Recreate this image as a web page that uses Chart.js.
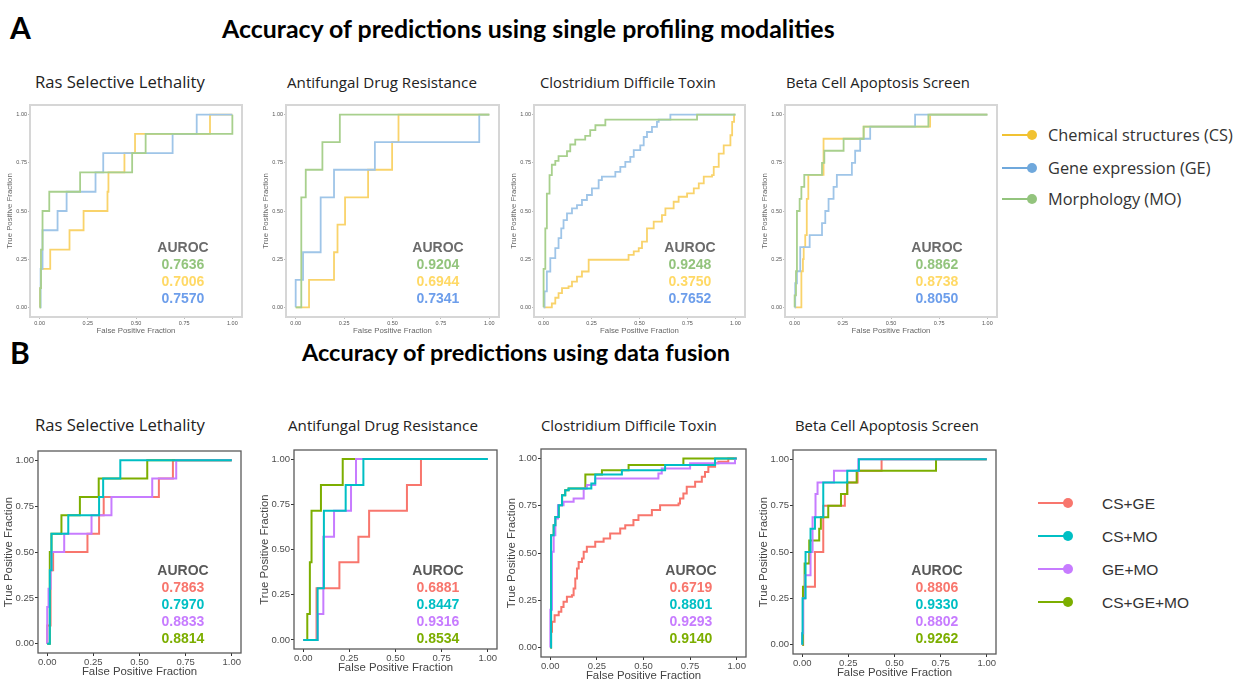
<!DOCTYPE html>
<html>
<head>
<meta charset="utf-8">
<title>ROC curves - single modalities and data fusion</title>
<script src="https://cdn.jsdelivr.net/npm/chart.js@4.4.1/dist/chart.umd.min.js"></script>
<style>
  body { margin: 0; background: #fff; }
  #page { position: relative; width: 1236px; height: 682px; overflow: hidden; font-family: Lato, "Open Sans", sans-serif; color: #1a1a1a; }
  .t { position: absolute; white-space: nowrap; }
  .panel { position: absolute; }
  .legline { position: absolute; height: 2px; }
  .legdot { position: absolute; width: 10px; height: 10px; border-radius: 50%; }
</style>
</head>
<body>
<div id="page"></div>
<script>
// ticks shared by every panel
const tickVals = [0, 0.25, 0.5, 0.75, 1];

const panelTitles = ['Ras Selective Lethality', 'Antifungal Drug Resistance', 'Clostridium Difficile Toxin', 'Beta Cell Apoptosis Screen'];
const singleNames = ['Chemical structures (CS)', 'Gene expression (GE)', 'Morphology (MO)'];
const fusionNames = ['CS+GE', 'CS+MO', 'GE+MO', 'CS+GE+MO'];

// ---- A: single modalities, [FPF, TPF] at the top of each vertical step ----
const rasA_CS = [[0,0],[0.002,0.1],[0.007,0.2],[0.055,0.3],[0.155,0.4],[0.228,0.5],[0.352,0.6],[0.357,0.7],[0.44,0.8],[0.495,0.9],[0.884,1],[1,1]];
const rasA_GE = [[0,0],[0.005,0.2],[0.015,0.4],[0.093,0.5],[0.14,0.6],[0.29,0.7],[0.33,0.8],[0.69,0.9],[0.815,1],[1,1]];
const rasA_MO = [[0,0],[0.003,0.1],[0.007,0.3],[0.015,0.5],[0.05,0.6],[0.21,0.7],[0.48,0.8],[0.55,0.9],[1,1]];

const antiA_CS = [[0,0],[0.069,0.143],[0.198,0.286],[0.216,0.429],[0.255,0.571],[0.374,0.714],[0.498,0.857],[0.531,1],[1,1]];
const antiA_GE = [[0,0],[0,0.143],[0.038,0.286],[0.129,0.571],[0.198,0.714],[0.409,0.857],[0.948,1],[1,1]];
const antiA_MO = [[0,0],[0.029,0.571],[0.052,0.714],[0.138,0.857],[0.228,1],[1,1]];

const closA_CS = [[0,0],[0.043,0.02],[0.061,0.05],[0.078,0.074],[0.096,0.1],[0.13,0.109],[0.148,0.134],[0.174,0.16],[0.2,0.186],[0.235,0.247],[0.443,0.272],[0.47,0.29],[0.496,0.307],[0.513,0.341],[0.539,0.41],[0.574,0.445],[0.617,0.479],[0.635,0.514],[0.678,0.548],[0.704,0.574],[0.748,0.591],[0.783,0.617],[0.809,0.643],[0.835,0.678],[0.878,0.686],[0.887,0.729],[0.913,0.798],[0.939,0.841],[0.974,0.893],[0.983,0.962],[0.993,1],[1,1]];
const closA_GE = [[0,0],[0.005,0.083],[0.017,0.186],[0.035,0.255],[0.061,0.307],[0.078,0.359],[0.092,0.41],[0.104,0.453],[0.122,0.488],[0.148,0.514],[0.174,0.531],[0.2,0.557],[0.226,0.583],[0.252,0.617],[0.287,0.66],[0.304,0.678],[0.374,0.703],[0.4,0.729],[0.426,0.755],[0.452,0.781],[0.47,0.816],[0.504,0.841],[0.522,0.884],[0.539,0.91],[0.565,0.936],[0.591,0.962],[0.6,0.974],[0.661,1],[1,1]];
const closA_MO = [[0,0],[0,0.2],[0.009,0.41],[0.017,0.59],[0.031,0.686],[0.043,0.74],[0.061,0.76],[0.078,0.785],[0.122,0.81],[0.139,0.845],[0.165,0.87],[0.217,0.89],[0.243,0.92],[0.27,0.945],[0.322,0.974],[0.8,1],[1,1]];

const betaA_CS = [[0,0],[0.035,0.1875],[0.043,0.25],[0.047,0.3125],[0.055,0.375],[0.063,0.5625],[0.071,0.6875],[0.15,0.875],[0.358,0.9375],[0.703,1],[1,1]];
const betaA_GE = [[0,0],[0.003,0.125],[0.012,0.1875],[0.029,0.3125],[0.078,0.375],[0.142,0.4375],[0.159,0.5],[0.176,0.5625],[0.202,0.625],[0.219,0.6875],[0.297,0.75],[0.314,0.8125],[0.34,0.875],[0.392,0.9375],[0.625,1],[1,1]];
const betaA_MO = [[0,0],[0,0.0625],[0.007,0.1875],[0.012,0.5],[0.026,0.5625],[0.035,0.625],[0.05,0.6875],[0.142,0.75],[0.154,0.8125],[0.254,0.875],[0.358,0.9375],[0.694,1],[1,1]];

// printed AUROC values (MO, CS, GE as in the picture)
const aucRasA = ['0.7636', '0.7006', '0.7570'];
const aucAntiA = ['0.9204', '0.6944', '0.7341'];
const aucClosA = ['0.9248', '0.3750', '0.7652'];
const aucBetaA = ['0.8862', '0.8738', '0.8050'];

// ---- B: data fusion ----
const rasB_CSGE = [[0,0],[0,0.1],[0.018,0.4],[0.032,0.5],[0.218,0.6],[0.281,0.7],[0.306,0.8],[0.605,0.9],[0.681,1],[1,1]];
const rasB_CSMO = [[0,0],[0.014,0.4],[0.023,0.6],[0.114,0.7],[0.281,0.8],[0.303,0.9],[0.396,1],[1,1]];
const rasB_GEMO = [[0,0],[0,0.2],[0.007,0.3],[0.018,0.4],[0.023,0.5],[0.092,0.6],[0.24,0.7],[0.348,0.8],[0.569,0.9],[0.699,1],[1,1]];
const rasB_ALL = [[0,0],[0.014,0.5],[0.023,0.6],[0.077,0.7],[0.177,0.8],[0.279,0.9],[0.542,1],[1,1]];

const antiB_CSGE = [[0,0],[0.072,0.286],[0.196,0.429],[0.299,0.571],[0.357,0.714],[0.562,0.857],[0.638,1],[1,1]];
const antiB_CSMO = [[0,0],[0.078,0.286],[0.112,0.714],[0.23,0.857],[0.326,1],[1,1]];
const antiB_GEMO = [[0,0],[0.078,0.143],[0.109,0.571],[0.167,0.714],[0.259,0.857],[0.286,1],[1,1]];
const antiB_ALL = [[0,0],[0.022,0.143],[0.036,0.429],[0.045,0.714],[0.096,0.857],[0.214,1],[1,1]];

const closB_CSGE = [[0,0],[0.004,0.083],[0.009,0.136],[0.023,0.171],[0.045,0.189],[0.059,0.215],[0.071,0.242],[0.089,0.268],[0.116,0.277],[0.125,0.312],[0.134,0.365],[0.143,0.418],[0.152,0.453],[0.17,0.471],[0.179,0.506],[0.196,0.533],[0.241,0.559],[0.286,0.577],[0.321,0.603],[0.375,0.63],[0.402,0.647],[0.446,0.674],[0.473,0.7],[0.545,0.727],[0.589,0.753],[0.688,0.762],[0.696,0.788],[0.714,0.815],[0.732,0.85],[0.777,0.877],[0.813,0.903],[0.83,0.929],[0.848,0.956],[0.884,0.974],[0.902,0.982],[0.955,1],[1,1]];
const closB_CSMO = [[0,0],[0.004,0.594],[0.018,0.647],[0.027,0.691],[0.045,0.753],[0.063,0.806],[0.08,0.832],[0.098,0.841],[0.22,0.868],[0.241,0.915],[0.384,0.938],[0.616,0.965],[0.884,1],[1,1]];
const closB_GEMO = [[0,0],[0,0.2],[0.009,0.506],[0.018,0.594],[0.027,0.683],[0.041,0.753],[0.071,0.771],[0.125,0.788],[0.179,0.841],[0.196,0.859],[0.241,0.894],[0.58,0.921],[0.598,0.947],[0.75,0.974],[0.991,1],[1,1]];
const closB_ALL = [[0,0],[0.004,0.594],[0.018,0.647],[0.027,0.691],[0.045,0.753],[0.063,0.806],[0.08,0.832],[0.098,0.841],[0.188,0.915],[0.277,0.938],[0.42,0.965],[0.714,1],[1,1]];

const betaB_CSGE = [[0,0],[0.005,0.25],[0.014,0.3125],[0.069,0.5],[0.114,0.75],[0.231,0.8125],[0.244,0.875],[0.3,0.9375],[0.43,1],[1,1]];
const betaB_CSMO = [[0,0],[0,0.0625],[0.002,0.25],[0.018,0.5],[0.045,0.625],[0.069,0.6875],[0.114,0.875],[0.244,0.9375],[0.307,1],[1,1]];
const betaB_GEMO = [[0,0],[0,0.0625],[0.005,0.25],[0.016,0.375],[0.045,0.5],[0.056,0.6875],[0.072,0.8125],[0.083,0.875],[0.172,0.9375],[0.304,1],[1,1]];
const betaB_ALL = [[0,0],[0.004,0.3125],[0.013,0.4375],[0.038,0.5625],[0.092,0.625],[0.101,0.6875],[0.141,0.75],[0.21,0.8125],[0.244,0.875],[0.295,0.9375],[0.725,1],[1,1]];

const aucRasB = ['0.7863', '0.7970', '0.8833', '0.8814'];
const aucAntiB = ['0.6881', '0.8447', '0.9316', '0.8534'];
const aucClosB = ['0.6719', '0.8801', '0.9293', '0.9140'];
const aucBetaB = ['0.8806', '0.9330', '0.8802', '0.9262'];

// colours
const lineColA = ['#f9d36b', '#9fc5e8', '#a8d08d'];      // CS, GE, MO curves
const aucColA = ['#93c47d', '#ffd966', '#6d9eeb'];       // MO, CS, GE text
const legColA = ['#f1c232', '#6fa8dc', '#93c47d'];
const colB = ['#F8766D', '#00BFC4', '#C77CFF', '#7CAE00'];

const page = document.getElementById('page');

const styleA = { wy: 29, padT: 4, padR: 4, hx: 20, tickSize: 5.5, tickColor: '#555', tickPad: 1, tickLen: 2, tickMark: '#bbb',
  titleSize: 7.8, titleColor: '#666', ytPad: 4.5, xtPad: 1.5, frame: '#d6d6d6', frameW: 2, lw: 1.8,
  aucY: 247, aucStep: 17, aucHead: '#6b6b6b' };
const styleB = { wy: 38, padT: 4, padR: 4, hx: 27, tickSize: 9.5, tickColor: '#4d4d4d', tickPad: 1, tickLen: 3, tickMark: '#333',
  titleSize: 11.4, titleColor: '#444', ytPad: 2, xtPad: 1, frame: '#5a5a5a', frameW: 1.3, lw: 2,
  aucY: 570, aucStep: 17, aucHead: '#595959' };

// frame rectangles [left, top, right, bottom] and AUROC column centre
const panelsA = [
  { frame: [30, 105, 242, 317], series: [rasA_CS, rasA_GE, rasA_MO], auc: aucRasA, aucX: 183 },
  { frame: [286, 105, 499, 317], series: [antiA_CS, antiA_GE, antiA_MO], auc: aucAntiA, aucX: 438 },
  { frame: [534, 105, 745, 317], series: [closA_CS, closA_GE, closA_MO], auc: aucClosA, aucX: 690 },
  { frame: [785, 105, 997, 317], series: [betaA_CS, betaA_GE, betaA_MO], auc: aucBetaA, aucX: 937 }
];
const panelsB = [
  { frame: [38, 451, 241, 653], series: [rasB_CSGE, rasB_CSMO, rasB_GEMO, rasB_ALL], auc: aucRasB, aucX: 183 },
  { frame: [294, 450, 497, 649], series: [antiB_CSGE, antiB_CSMO, antiB_GEMO, antiB_ALL], auc: aucAntiB, aucX: 438 },
  { frame: [541, 449, 746, 657], series: [closB_CSGE, closB_CSMO, closB_GEMO, closB_ALL], auc: aucClosB, aucX: 691 },
  { frame: [793, 450, 996, 654], series: [betaB_CSGE, betaB_CSMO, betaB_GEMO, betaB_ALL], auc: aucBetaB, aucX: 937 }
];

const framePlugin = {
  id: 'frame',
  afterDatasetsDraw(chart, args, opts) {
    const a = chart.chartArea, ctx = chart.ctx;
    ctx.save();
    ctx.strokeStyle = opts.color;
    ctx.lineWidth = opts.width;
    ctx.strokeRect(a.left, a.top, a.right - a.left, a.bottom - a.top);
    ctx.restore();
  }
};

const axis = (st, title, isX) => ({
  type: 'linear', min: -0.05, max: 1.05,
  afterBuildTicks: s => { s.ticks = tickVals.map(v => ({ value: v })); },
  afterFit: s => {
    if (isX) { s.height = st.hx; s.paddingLeft = 0; s.paddingRight = 0; }
    else { s.width = st.wy; s.paddingTop = 0; s.paddingBottom = 0; }
  },
  ticks: { font: { family: 'Liberation Sans', size: st.tickSize }, color: st.tickColor, padding: st.tickPad,
    maxRotation: 0, autoSkip: false, callback: v => v.toFixed(2) },
  grid: { drawOnChartArea: false, drawTicks: true, tickLength: st.tickLen, color: st.tickMark },
  border: { display: false },
  title: { display: true, text: title, color: st.titleColor, font: { family: 'Liberation Sans', size: st.titleSize },
    padding: isX ? { top: 0, bottom: st.xtPad } : { top: st.ytPad, bottom: 0 } }
});

function makePanel(p, st, colors, orders) {
  const [l, t, r, b] = p.frame;
  const box = document.createElement('div');
  box.className = 'panel';
  box.style.left = (l - st.wy) + 'px';
  box.style.top = (t - st.padT) + 'px';
  const cv = document.createElement('canvas');
  cv.width = r - l + st.wy + st.padR;
  cv.height = b - t + st.padT + st.hx;
  box.appendChild(cv);
  page.appendChild(box);

  new Chart(cv, {
    type: 'line',
    data: {
      datasets: p.series.map((pts, i) => ({
        data: pts.map(([x, y]) => ({ x, y })),
        borderColor: colors[i], borderWidth: st.lw, pointRadius: 0,
        stepped: 'before', fill: false, order: orders[i], borderJoinStyle: 'miter'
      }))
    },
    options: {
      responsive: false, animation: false, events: [],
      layout: { padding: { left: 0, top: st.padT, right: st.padR, bottom: 0 } },
      scales: { x: axis(st, 'False Positive Fraction', true), y: axis(st, 'True Positive Fraction', false) },
      plugins: { legend: { display: false }, tooltip: { enabled: false }, frame: { color: st.frame, width: st.frameW } }
    },
    plugins: [framePlugin]
  });
}

function text(str, x, cy, size, opts = {}) {
  const d = document.createElement('div');
  d.className = 't';
  d.textContent = str;
  d.style.fontSize = size + 'px';
  d.style.lineHeight = Math.round(size * 1.2) + 'px';
  d.style.top = (cy - size * 0.6) + 'px';
  d.style.left = x + 'px';
  if (opts.weight) d.style.fontWeight = opts.weight;
  if (opts.color) d.style.color = opts.color;
  if (opts.family) d.style.fontFamily = opts.family;
  if (opts.center) d.style.transform = 'translateX(-50%)';
  page.appendChild(d);
  return d;
}

// resize a text element so that it spans the wanted width
function fitWidth(el, w) {
  const s = parseFloat(el.style.fontSize);
  const ns = s * w / el.getBoundingClientRect().width;
  setSize(el, ns);
  return ns;
}
function setSize(el, ns) {
  const s = parseFloat(el.style.fontSize);
  const cy = parseFloat(el.style.top) + s * 0.6;
  el.style.fontSize = ns + 'px';
  el.style.lineHeight = Math.round(ns * 1.2) + 'px';
  el.style.top = (cy - ns * 0.6) + 'px';
}

function addAuc(p, st, colors) {
  ['AUROC', ...p.auc].forEach((s, k) => {
    text(s, p.aucX, st.aucY + k * st.aucStep, 14, {
      weight: 700, family: '"Liberation Sans", Arial, sans-serif', center: true,
      color: k === 0 ? st.aucHead : colors[k - 1]
    });
  });
}

function legendItem(x0, cy, color, label, textX, size, family) {
  const ln = document.createElement('div');
  ln.className = 'legline';
  ln.style.cssText = `left:${x0}px;top:${cy - 1}px;width:28px;background:${color}`;
  const dot = document.createElement('div');
  dot.className = 'legdot';
  dot.style.cssText = `left:${x0 + 25}px;top:${cy - 5}px;background:${color}`;
  page.appendChild(ln);
  page.appendChild(dot);
  return text(label, textX, cy, size, { color: '#333', family });
}

// headings
text('A', 10, 27, 30, { weight: 700, color: '#000' });
text('B', 10, 352, 30, { weight: 700, color: '#000' });
const h1 = text('Accuracy of predictions using single profiling modalities', 222, 28, 20, { weight: 700, color: '#000' });
fitWidth(h1, 613);
const h2 = text('Accuracy of predictions using data fusion', 302, 352, 20, { weight: 700, color: '#000' });
fitWidth(h2, 428);

// panel titles, each sized to the width it has in the picture
const titleXA = [35, 287, 540, 786];
const titleXB = [35, 288, 541, 795];
const titleW = [170, 190, 176, 184];
panelTitles.forEach((s, i) => {
  fitWidth(text(s, titleXA[i], 82, 15, { color: '#222', family: '"Open Sans", sans-serif' }), titleW[i]);
  fitWidth(text(s, titleXB[i], 425, 15, { color: '#222', family: '"Open Sans", sans-serif' }), titleW[i]);
});

// charts
panelsA.forEach(p => {
  makePanel(p, styleA, lineColA, [3, 2, 1]);
  addAuc(p, styleA, aucColA);
});
panelsB.forEach(p => {
  makePanel(p, styleB, colB, [4, 1, 2, 3]);
  addAuc(p, styleB, colB);
});

// legends
const legYA = [135, 168, 199];
const legElsA = singleNames.map((s, i) => legendItem(1002, legYA[i], legColA[i], s, 1048, 15, '"Open Sans", sans-serif'));
const legSize = fitWidth(legElsA[0], 185);
legElsA.slice(1).forEach(el => setSize(el, legSize));
const legYB = [503, 536, 569, 602];
fusionNames.forEach((s, i) => legendItem(1038, legYB[i], colB[i], s, 1102, 15.5, '"Liberation Sans", Arial, sans-serif'));
</script>
</body>
</html>
